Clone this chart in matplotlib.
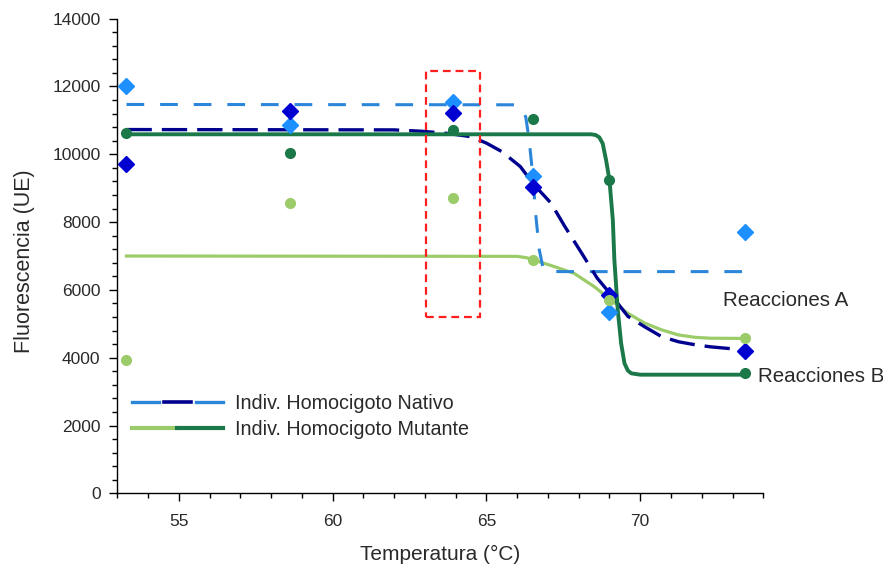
# -*- coding: utf-8 -*-

from matplotlib import pyplot as plt
from matplotlib.lines import Line2D
from matplotlib.patches import Rectangle
from matplotlib.legend_handler import HandlerTuple
from matplotlib.ticker import MultipleLocator

plt.rcParams['font.family'] = ['Liberation Sans', 'DejaVu Sans']

# measured points (Temperatura, Fluorescencia)
temps = [53.3, 58.6, 63.9, 66.5, 69.0, 73.4]
nativo_a = [12000, 10870, 11540, 9350, 5360, 7700]
nativo_b = [9700, 11270, 11230, 9040, 5850, 4200]
mutante_a = [3930, 8560, 8700, 6880, 5700, 4590]
mutante_b = [10640, 10030, 10720, 11030, 9240, 3540]

# fitted curves
fit_nativo_a_x = [53.3, 65.9, 66.05, 66.15, 66.28, 66.39, 66.5, 66.61, 66.72, 66.83, 66.93, 67.04, 67.42, 73.4]
fit_nativo_a_y = [11470, 11460, 11420, 11320, 11100, 10420, 9440, 8160, 7180, 6690, 6590, 6550, 6540, 6540]

fit_nativo_b_x = [53.3, 62.0, 62.9, 63.7, 64.5, 65.0, 65.5, 66.1, 66.55, 67.1, 67.55, 68.1, 68.6, 69.05,
                  69.6, 70.15, 70.7, 71.25, 71.8, 72.3, 73.4]
fit_nativo_b_y = [10730, 10720, 10680, 10620, 10520, 10330, 10080, 9640, 9100, 8560, 7870, 7080, 6350, 5860,
                  5220, 4910, 4620, 4470, 4380, 4320, 4230]

fit_mutante_a_x = [53.3, 66.0, 66.3, 66.55, 67.2, 67.85, 68.5, 69.05, 69.6, 70.15, 70.7, 71.25, 71.8, 72.3, 73.4]
fit_mutante_a_y = [7000, 6990, 6950, 6880, 6690, 6490, 6100, 5700, 5310, 5020, 4820, 4670, 4600, 4575, 4570]

fit_mutante_b_x = [53.3, 68.4, 68.55, 68.67, 68.78, 68.89, 69.0, 69.11, 69.16, 69.27, 69.38, 69.49, 69.6, 69.71,
                   70.0, 73.4]
fit_mutante_b_y = [10590, 10590, 10570, 10500, 10320, 9830, 9240, 8060, 6880, 5400, 4420, 3830, 3620, 3540,
                   3500, 3500]

# zone of interest (red box)
box_x = [63.05, 64.8]
box_y = [5190, 12460]

c_light_blue = '#2b86d9'
c_light_blue_mk = '#1e8fff'
c_dark_blue = '#00008f'
c_dark_blue_mk = '#0000d0'
c_dark_green = '#1b7848'
c_light_green = '#9ccc6a'
text_color = '#2a2a2a'

figure = plt.figure(figsize=(8.83, 5.73), dpi=100)
ax = figure.add_axes([0.1328, 0.139, 0.7316, 0.8284])

# fitted lines
ax.plot(fit_mutante_a_x, fit_mutante_a_y, color=c_light_green, lw=2.3, zorder=2)
ax.plot(fit_nativo_a_x, fit_nativo_a_y, color=c_light_blue, lw=2.2, dashes=(5.8, 5.2), zorder=2)
ax.plot(fit_nativo_b_x, fit_nativo_b_y, color=c_dark_blue, lw=2.4, dashes=(7.6, 3.0), zorder=3)
ax.plot(fit_mutante_b_x, fit_mutante_b_y, color=c_dark_green, lw=2.8, zorder=4)

# points
ax.plot(temps, nativo_a, 'D', color=c_light_blue_mk, ms=8.5, ls='none', zorder=5)
ax.plot(temps, nativo_b, 'D', color=c_dark_blue_mk, ms=8.5, ls='none', zorder=5)
ax.plot(temps, mutante_b, 'o', color=c_dark_green, ms=7, ls='none', zorder=6)
ax.plot(temps, mutante_a, 'o', color=c_light_green, ms=7, ls='none', zorder=6)

ax.add_patch(Rectangle((box_x[0], box_y[0]), box_x[1] - box_x[0], box_y[1] - box_y[0],
                       fill=False, ec='#ff1f1f', lw=1.6, ls=(0, (3.5, 2.2)), zorder=7))

ax.text(72.7, 5700, 'Reacciones A', fontsize=14.8, color=text_color, va='center', ha='left')
ax.text(73.84, 3460, 'Reacciones B', fontsize=14.8, color=text_color, va='center', ha='left')

# legend with split handles
h_nat = (Line2D([], [], color=c_light_blue, lw=2.4),
         Line2D([], [], color=c_dark_blue, lw=2.6),
         Line2D([], [], color=c_light_blue, lw=2.4))
h_mut = (Line2D([], [], color=c_light_green, lw=3.0),
         Line2D([], [], color=c_dark_green, lw=3.0))
ax.legend([h_nat, h_mut], ['Indiv. Homocigoto Nativo', 'Indiv. Homocigoto Mutante'],
          handler_map={h_nat: HandlerTuple(ndivide=None, pad=0.25),
                       h_mut: HandlerTuple(ndivide=None, pad=0.0)},
          loc='upper left', bbox_to_anchor=(0.023, 0.210), frameon=False,
          borderpad=0, borderaxespad=0, handlelength=4.6, handletextpad=0.6,
          labelspacing=0.38, fontsize=14.2, labelcolor=text_color)

ax.set_xlim(53, 74)
ax.set_ylim(0, 14000)
ax.xaxis.set_major_locator(MultipleLocator(5))
ax.xaxis.set_minor_locator(MultipleLocator(1))
ax.yaxis.set_major_locator(MultipleLocator(2000))
ax.yaxis.set_minor_locator(MultipleLocator(400))

ax.spines['top'].set_visible(False)
ax.spines['right'].set_visible(False)
ax.spines['left'].set_linewidth(1.0)
ax.spines['bottom'].set_linewidth(1.0)
ax.tick_params(which='major', direction='out', length=6, width=1.0, labelsize=12.5, labelcolor=text_color)
ax.tick_params(which='minor', direction='out', length=3.5, width=1.0)
ax.tick_params(axis='x', which='major', pad=9)
ax.tick_params(axis='y', which='major', pad=6)

ax.set_xlabel('Temperatura (°C)', fontsize=15, color=text_color, labelpad=11)
ax.set_ylabel('Fluorescencia (UE)', fontsize=15.5, color=text_color)
ax.yaxis.set_label_coords(-0.128, 0.49)

figure.savefig('out.png', dpi=100)
